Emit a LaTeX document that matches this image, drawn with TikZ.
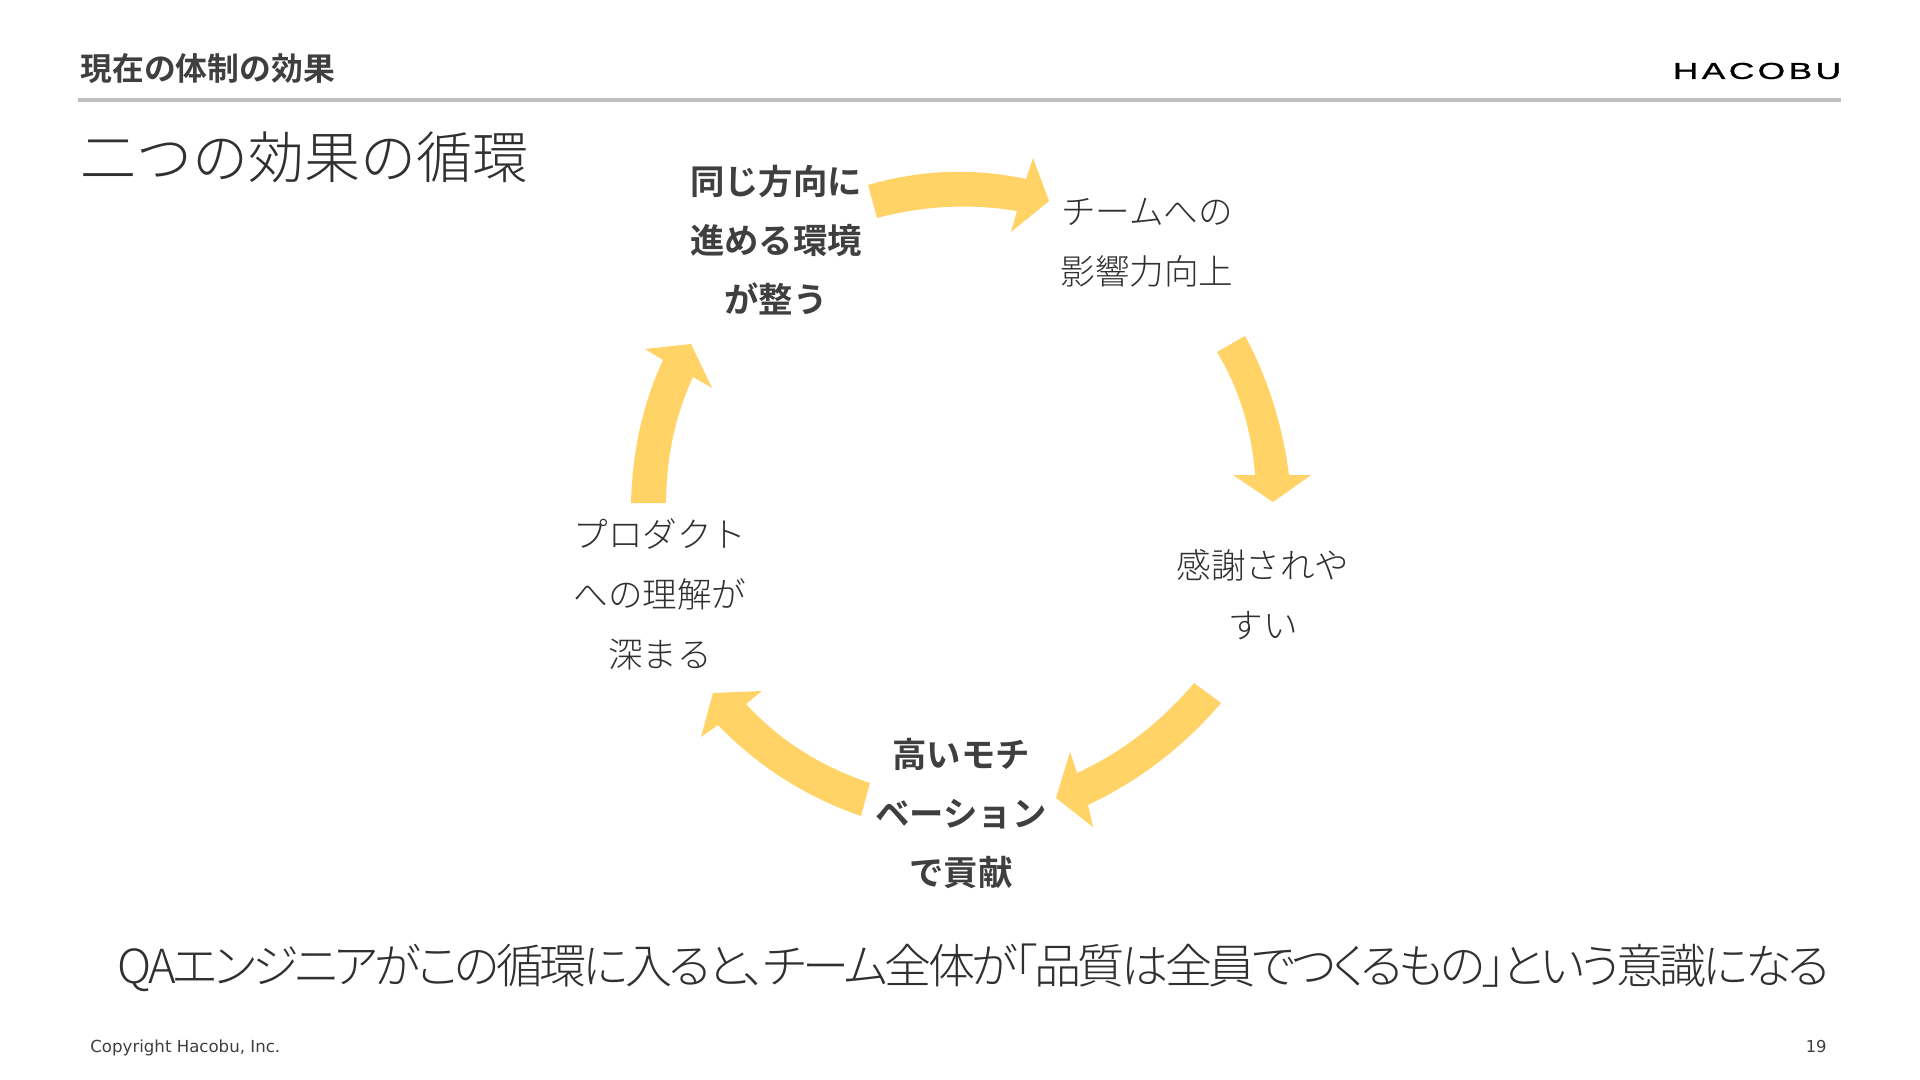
\documentclass[tikz,border=0pt]{standalone}
\usepackage{fontspec}
\setmainfont{Noto Sans CJK JP}
\newfontfamily\jpfont{Noto Sans CJK JP}[BoldFont={Noto Sans CJK JP Bold}]
\newfontfamily\jplight{Noto Sans CJK JP Light}
\newfontfamily\jptight{Noto Sans CJK JP Light}[RawFeature=+palt,LetterSpace=-7.4]
\newfontfamily\latinfont{DejaVu Sans}
\newfontfamily\logofont{Liberation Sans}[LetterSpace=10,FakeBold=1]
\definecolor{txt}{HTML}{3F3F3F}
\definecolor{txtl}{HTML}{303030}
\definecolor{arrowy}{HTML}{FFD366}
\definecolor{rulegrey}{HTML}{BFBFBF}
\tikzset{
  blockarrow/.style={fill=arrowy,draw=none},
  lab/.style={text=txtl,align=center,inner sep=0pt,font=\jplight\fontsize{17.3}{30}\selectfont},
  labb/.style={text=txt,align=center,inner sep=0pt,font=\jpfont\bfseries\fontsize{17.2}{29.5}\selectfont},
}
\begin{document}
\begin{tikzpicture}[x=0.5pt,y=-0.5pt]
\useasboundingbox[fill=white] (0,0) rectangle (1920,1080);
\node[text=txt,anchor=west,inner sep=0pt,font=\jpfont\bfseries\fontsize{15.9}{18}\selectfont] (head) at (80,69) {現在の体制の効果};
\draw[rulegrey,line width=1.6pt] (78,100) -- (1841,100);
\node[anchor=center,inner sep=0pt,text=black,font=\logofont\fontsize{11.5}{12}\selectfont] (logo) at (1757,71) {\scalebox{1.53}[1]{HACOBU}};
\node[text=txtl,anchor=west,inner sep=0pt,font=\jplight\fontsize{28}{32}\selectfont] (title) at (80,157) {二つの効果の循環};

\node[labb] (n1) at (776,240) {同じ方向に\\進める環境\\が整う};
\node[lab] (n2) at (1147,243) {チームへの\\影響力向上};
\node[lab] (n3) at (1263,595) {感謝されや\\すい};
\node[labb] (n4) at (961,813) {高いモチ\\ベーション\\で貢献};
\node[lab] (n5) at (660,594) {プロダクト\\への理解が\\深まる};

\fill[blockarrow] (868,185) .. controls (920.7,169.7) and (973.3,167.7) .. (1026,179) -- (1033,158) -- (1049,201) -- (1011,232) -- (1017,211) .. controls (970.3,203.3) and (923.7,205.7) .. (877,218) -- cycle;
\fill[blockarrow] (1245,336) .. controls (1267.6,377.7) and (1282.3,424) .. (1289,475) -- (1311,475) -- (1273,502) -- (1233,475) -- (1255,475) .. controls (1251.6,429.4) and (1239,388.4) .. (1217,352) -- cycle;
\fill[blockarrow] (1221,703) .. controls (1184,746.4) and (1139.7,780.4) .. (1088,805) -- (1093,827) -- (1056,798) -- (1070,752) -- (1077,773) .. controls (1122,752.3) and (1161,722.3) .. (1194,683) -- cycle;
\fill[blockarrow] (870,783) .. controls (820.6,766.6) and (779.3,740.3) .. (746,704) -- (762,691) -- (713,693) -- (701,737) -- (718,725) .. controls (758.3,766.7) and (806,797) .. (861,816) -- cycle;
\fill[blockarrow] (631,503) .. controls (632.3,450.7) and (643,403) .. (663,360) -- (645,349) -- (691,344) -- (712,388) -- (693,377) .. controls (675.3,415) and (666.3,457) .. (666,503) -- cycle;

\node[text=txtl,anchor=center,inner sep=0pt,font=\jptight\fontsize{23.5}{28}\selectfont] (msg) at (974,968) {QAエンジニアがこの循環に入ると、チーム全体が「品質は全員でつくるもの」という意識になる};
\node[text=txt,anchor=west,inner sep=0pt,font=\latinfont\fontsize{8.3}{10}\selectfont] (copy) at (90,1048) {Copyright Hacobu, Inc.};
\node[text=txt,anchor=east,inner sep=0pt,font=\latinfont\fontsize{8.2}{10}\selectfont] (page) at (1827,1047) {19};
\end{tikzpicture}
\end{document}
